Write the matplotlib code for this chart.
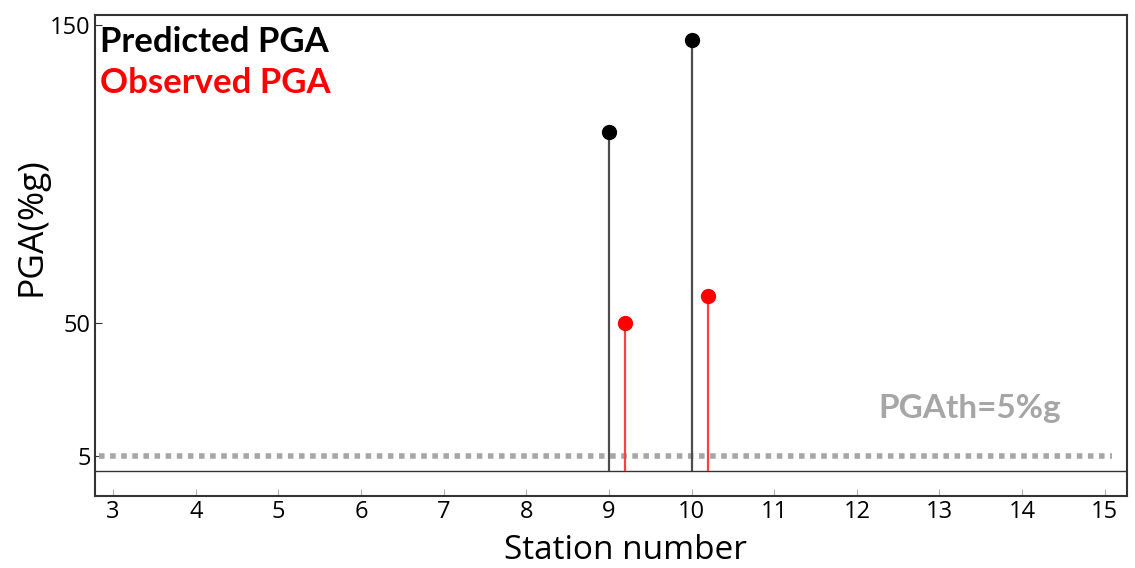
import matplotlib
matplotlib.use("Agg")
import matplotlib.pyplot as plt

# Station PGA values (%g)
pred_station = [9, 10]
pred_pga = [114, 145]
obs_station = [9.2, 10.2]
obs_pga = [50, 59]
threshold = 5
xticks = list(range(3, 16))
yticks = [5, 50, 150]

plt.rcParams['font.family'] = ['Open Sans', 'DejaVu Sans']

fig = plt.figure(figsize=(11.35, 5.68), dpi=100)
ax = fig.add_axes([0.0837, 0.1268, 0.9093, 0.8468])

# stems
ax.vlines(pred_station, 0, pred_pga, color='#4d4d4d', lw=1.6, zorder=3)
ax.plot(pred_station, pred_pga, 'o', color='black', ms=10, zorder=4)
ax.vlines(obs_station, 0, obs_pga, color='#ff4040', lw=1.6, zorder=3)
ax.plot(obs_station, obs_pga, 'o', color='#ff0000', ms=10, zorder=4)

# baseline and threshold
ax.axhline(0, color='#333333', lw=1.0, zorder=2)
ax.axhline(threshold, xmin=0.004, xmax=0.985, color='#a6a6a6', lw=4,
           linestyle=(0, (1, 1)), zorder=2)

ax.set_xlim(2.78, 15.27)
ax.set_ylim(-8.3, 153.4)
ax.set_xticks(xticks)
ax.set_yticks(yticks)
ax.tick_params(axis='x', direction='in', length=5, color='#b0b0b0',
               labelsize=17, pad=3)
ax.tick_params(axis='y', direction='in', length=5, color='#333333',
               labelsize=17, pad=3)
for s in ax.spines.values():
    s.set_color('#333333')
    s.set_linewidth(1.5)

ax.set_xlabel('Station number', fontsize=24, va='center')
ax.xaxis.set_label_coords(0.514, -0.114)
ax.set_ylabel('PGA(%g)', fontsize=25.5, va='center')
ax.yaxis.set_label_coords(-0.062, 0.56)

ax.text(0.005, 0.923, 'Predicted PGA', transform=ax.transAxes, color='black',
        fontsize=25, fontweight='bold', family=['Lato', 'DejaVu Sans'],
        va='baseline', ha='left')
ax.text(0.005, 0.838, 'Observed PGA', transform=ax.transAxes, color='#ff0000',
        fontsize=25, fontweight='bold', family=['Lato', 'DejaVu Sans'],
        va='baseline', ha='left')
ax.text(12.26, 17.8, 'PGAth=5%g', color='#a6a6a6', fontsize=24,
        fontweight='bold', family=['Lato', 'DejaVu Sans'], va='baseline',
        ha='left')

fig.savefig('out.png', dpi=100)
